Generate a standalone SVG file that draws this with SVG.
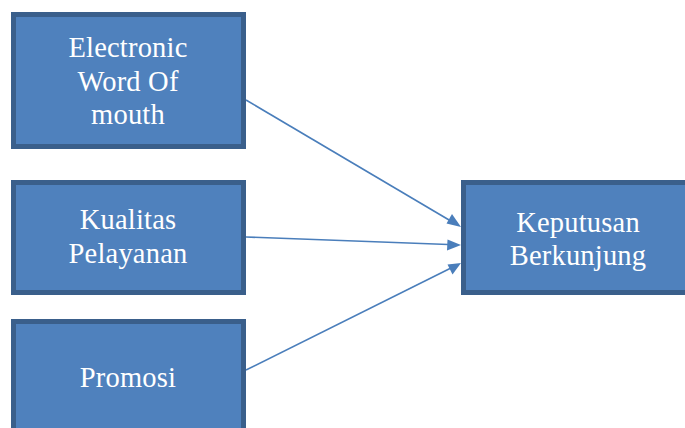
<svg xmlns="http://www.w3.org/2000/svg" width="685" height="428" viewBox="0 0 685 428">
<defs>
<style>
.box{fill:#4f81bd;stroke:#3a5f8b;stroke-width:5}
text{font-family:'Liberation Serif','Times New Roman',serif;font-size:28.5px;fill:#ffffff;text-anchor:middle;letter-spacing:0.2px}
.c{stroke:#4a7ebb;stroke-width:1.6;fill:none}
.ah{fill:#4a7ebb}
</style>
</defs>
<rect width="685" height="428" fill="#ffffff"/>
<g id="connectors">
<line class="c" x1="246" y1="100" x2="455" y2="223.5"/>
<line class="c" x1="246" y1="237" x2="455" y2="244.8"/>
<line class="c" x1="246" y1="370" x2="455" y2="266"/>
<path class="ah" d="M461,227 L446.5,223.5 L452,214 z"/>
<path class="ah" d="M461,245 L447,250.5 L447.5,239.5 z"/>
<path class="ah" d="M461,263 L452.5,274.5 L447.5,264.5 z"/>
</g>
<g id="node-ewom">
<rect class="box" x="13.5" y="14.5" width="230" height="132"/>
<text x="128" y="57">Electronic</text>
<text x="128" y="90.5">Word Of</text>
<text x="128" y="124">mouth</text>
</g>
<g id="node-kualitas">
<rect class="box" x="13.5" y="182.5" width="230" height="110"/>
<text x="128" y="229">Kualitas</text>
<text x="128" y="263">Pelayanan</text>
</g>
<g id="node-promosi">
<rect class="box" x="13.5" y="321.5" width="230" height="120"/>
<text x="128" y="387">Promosi</text>
</g>
<g id="node-keputusan">
<rect class="box" x="463.5" y="182.5" width="230" height="110"/>
<text x="578" y="231.5">Keputusan</text>
<text x="578" y="265">Berkunjung</text>
</g>
</svg>
